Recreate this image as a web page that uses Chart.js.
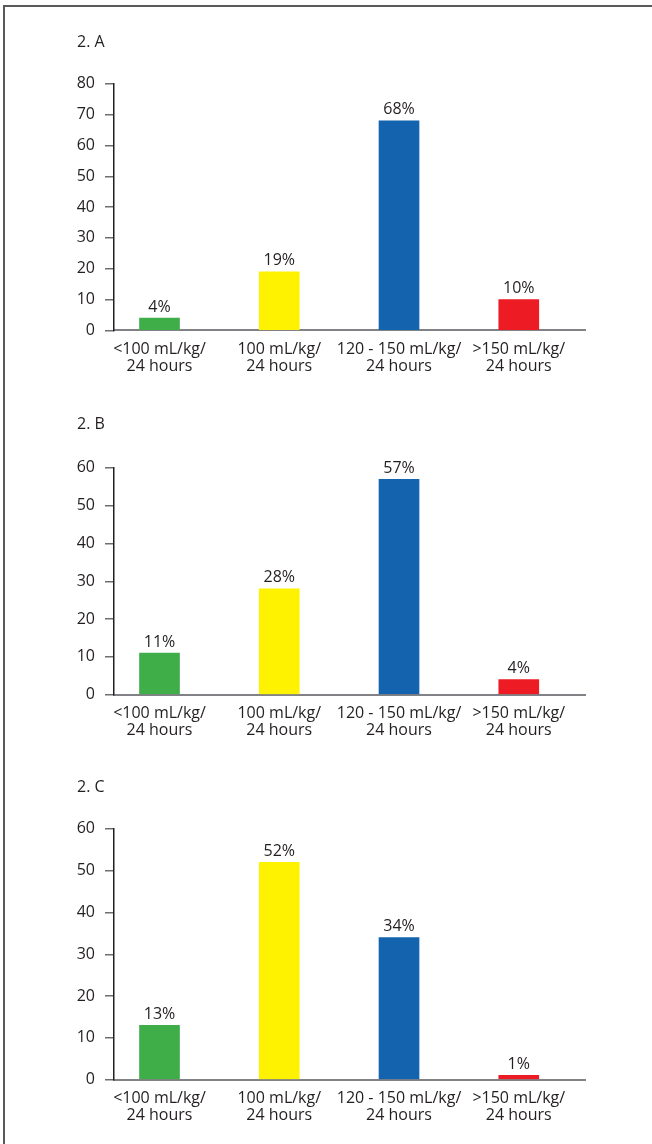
<!DOCTYPE html>
<html>
<head>
<meta charset="utf-8">
<script src="https://cdn.jsdelivr.net/npm/chart.js@4.4.1/dist/chart.umd.min.js"></script>
<style>
  html, body { margin: 0; padding: 0; background: #ffffff; }
  body { width: 652px; height: 1144px; position: relative; overflow: hidden; }
  .frame { position: absolute; left: 3px; top: 5px; right: -10px; bottom: -10px;
           border-top: 2px solid #58595b; border-left: 2px solid #58595b; }
  canvas { position: absolute; left: 0; }
</style>
</head>
<body>
<div class="frame"></div>
<canvas id="panelA" width="652"></canvas>
<canvas id="panelB" width="652"></canvas>
<canvas id="panelC" width="652"></canvas>
<script>
// Panel headings
const panelTitles = ['2. A', '2. B', '2. C'];

// Daily fluid volume groups (two-line axis labels)
const categories = [
  ['<100 mL/kg/', '24 hours'],
  ['100 mL/kg/', '24 hours'],
  ['120 - 150 mL/kg/', '24 hours'],
  ['>150 mL/kg/', '24 hours']
];

// Share of patients per group, percent
const valuesA = [4, 19, 68, 10];
const valuesB = [11, 28, 57, 4];
const valuesC = [13, 52, 34, 1];

// Y axis ranges
const yMaxA = 80;
const yMaxB = 60;
const yMaxC = 60;
const yStep = 10;

const barColors = ['#3fae49', '#fff200', '#1363ae', '#ed1c24'];

const TEXT = '#231f20';
const FONT_FAMILY = '"Open Sans", "Noto Sans", sans-serif';
const FONT_SIZE = 16;
const TITLE_LINE = FONT_SIZE * 1.2;
const PAD_TOP = 14;
const PAD_BOTTOM = 10;
const X_AXIS_H = 46;
const PLOT_LEFT = 114;
const PAD_LEFT = 77;
const PAD_RIGHT = 67;

// Page positions of each panel: title centre, plot top and plot bottom
const frames = [
  { titleY: 43,  plotTop: 84.3,  plotBottom: 330.7 },
  { titleY: 425, plotTop: 468.3, plotBottom: 695 },
  { titleY: 788, plotTop: 829.3, plotBottom: 1080 }
];

const valueLabels = {
  id: 'valueLabels',
  afterDatasetsDraw(chart) {
    const ctx = chart.ctx;
    const meta = chart.getDatasetMeta(0);
    const data = chart.data.datasets[0].data;
    ctx.save();
    ctx.font = FONT_SIZE + 'px ' + FONT_FAMILY;
    ctx.fillStyle = TEXT;
    ctx.textAlign = 'center';
    ctx.textBaseline = 'middle';
    meta.data.forEach((bar, i) => {
      ctx.fillText(data[i].y + '%', bar.x, bar.y - 11);
    });
    ctx.restore();
  }
};

function buildPanel(canvasId, title, values, yMax, frame) {
  const canvas = document.getElementById(canvasId);
  const canvasTop = frame.titleY - PAD_TOP - TITLE_LINE / 2;
  const height = Math.round(frame.plotBottom - canvasTop + X_AXIS_H + PAD_BOTTOM);
  canvas.style.top = canvasTop + 'px';
  canvas.height = height;
  canvas.style.height = height + 'px';
  const padBottom = height - (frame.plotBottom - canvasTop) - X_AXIS_H;
  const titleGap = frame.plotTop - canvasTop - PAD_TOP - TITLE_LINE;

  return new Chart(canvas, {
    type: 'bar',
    data: {
      datasets: [{
        data: values.map((v, i) => ({ x: i, y: v })),
        backgroundColor: barColors,
        borderWidth: 0,
        barThickness: 40
      }]
    },
    options: {
      responsive: false,
      animation: false,
      layout: { padding: { top: PAD_TOP, left: PAD_LEFT, right: PAD_RIGHT, bottom: padBottom } },
      plugins: {
        legend: { display: false },
        tooltip: { enabled: false },
        title: {
          display: true,
          text: title,
          align: 'start',
          color: TEXT,
          font: { family: FONT_FAMILY, size: FONT_SIZE, weight: 'normal', lineHeight: 1.2 },
          padding: { top: 0, bottom: titleGap }
        }
      },
      scales: {
        x: {
          type: 'linear',
          offset: false,
          min: -0.38,
          max: 3.553,
          afterBuildTicks: scale => { scale.ticks = categories.map((_, i) => ({ value: i })); },
          afterFit: scale => { scale.height = X_AXIS_H; },
          grid: { display: false, drawTicks: false, offset: false },
          border: { display: true, color: '#808285', width: 2 },
          ticks: {
            autoSkip: false,
            maxRotation: 0,
            padding: 10,
            color: TEXT,
            font: { family: FONT_FAMILY, size: FONT_SIZE, lineHeight: 1.08 },
            callback: value => categories[value] || ''
          }
        },
        y: {
          min: 0,
          max: yMax,
          afterFit: scale => { scale.width = PLOT_LEFT - PAD_LEFT; },
          grid: { drawOnChartArea: false, drawTicks: true, tickLength: 9, color: '#6d6e71', lineWidth: 1.5 },
          border: { display: true, color: TEXT, width: 1.5 },
          ticks: {
            stepSize: yStep,
            padding: 10,
            color: TEXT,
            font: { family: FONT_FAMILY, size: FONT_SIZE }
          }
        }
      }
    },
    plugins: [valueLabels]
  });
}

buildPanel('panelA', panelTitles[0], valuesA, yMaxA, frames[0]);
buildPanel('panelB', panelTitles[1], valuesB, yMaxB, frames[1]);
buildPanel('panelC', panelTitles[2], valuesC, yMaxC, frames[2]);
</script>
</body>
</html>
